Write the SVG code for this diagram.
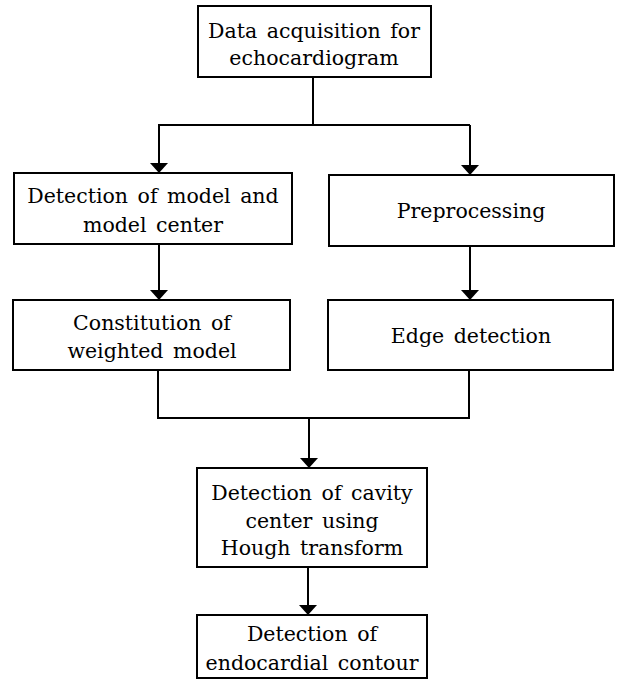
<svg xmlns="http://www.w3.org/2000/svg" width="623" height="689" viewBox="0 0 623 689">
<defs>
<marker id="ah" viewBox="0 0 10 18" refX="10" refY="9" markerWidth="10" markerHeight="18" markerUnits="userSpaceOnUse" orient="auto">
<path d="M0,0 L10,9 L0,18 Z" fill="#000"/>
</marker>
</defs>
<style>
.box{fill:#fff;stroke:#000;stroke-width:2}
.t{font-family:'DejaVu Serif',serif;font-size:20.5px;fill:#000;text-anchor:middle;word-spacing:3px}
.c{fill:none;stroke:#000;stroke-width:2}
</style>
<rect width="623" height="689" fill="#fff"/>
<g id="connectors">
<polyline class="c" points="313,77 313,125"/>
<polyline class="c" points="158,125 470,125"/>
<polyline class="c" points="159,125 159,173" marker-end="url(#ah)"/>
<polyline class="c" points="470,125 470,175" marker-end="url(#ah)"/>
<polyline class="c" points="159,244 159,300" marker-end="url(#ah)"/>
<polyline class="c" points="470,246 470,300" marker-end="url(#ah)"/>
<polyline class="c" points="158,370 158,418 469,418 469,370"/>
<polyline class="c" points="309,418 309,468" marker-end="url(#ah)"/>
<polyline class="c" points="308,567 308,615" marker-end="url(#ah)"/>
</g>
<g id="n1">
<rect class="box" x="198" y="6" width="233" height="71"/>
<text class="t" x="314" y="38">Data acquisition for</text>
<text class="t" x="314" y="65">echocardiogram</text>
</g>
<g id="n2">
<rect class="box" x="14" y="173" width="278" height="71"/>
<text class="t" x="153" y="203">Detection of model and</text>
<text class="t" x="153" y="232">model center</text>
</g>
<g id="n3">
<rect class="box" x="329" y="175" width="285" height="71"/>
<text class="t" x="471" y="218">Preprocessing</text>
</g>
<g id="n4">
<rect class="box" x="13" y="300" width="277" height="70"/>
<text class="t" x="152" y="330">Constitution of</text>
<text class="t" x="152" y="358">weighted model</text>
</g>
<g id="n5">
<rect class="box" x="328" y="300" width="285" height="70"/>
<text class="t" x="471" y="343">Edge detection</text>
</g>
<g id="n6">
<rect class="box" x="197" y="468" width="230" height="99"/>
<text class="t" x="312" y="500">Detection of cavity</text>
<text class="t" x="312" y="528">center using</text>
<text class="t" x="312" y="555">Hough transform</text>
</g>
<g id="n7">
<rect class="box" x="197" y="615" width="230" height="63"/>
<text class="t" x="312" y="641">Detection of</text>
<text class="t" x="312" y="670">endocardial contour</text>
</g>
</svg>
